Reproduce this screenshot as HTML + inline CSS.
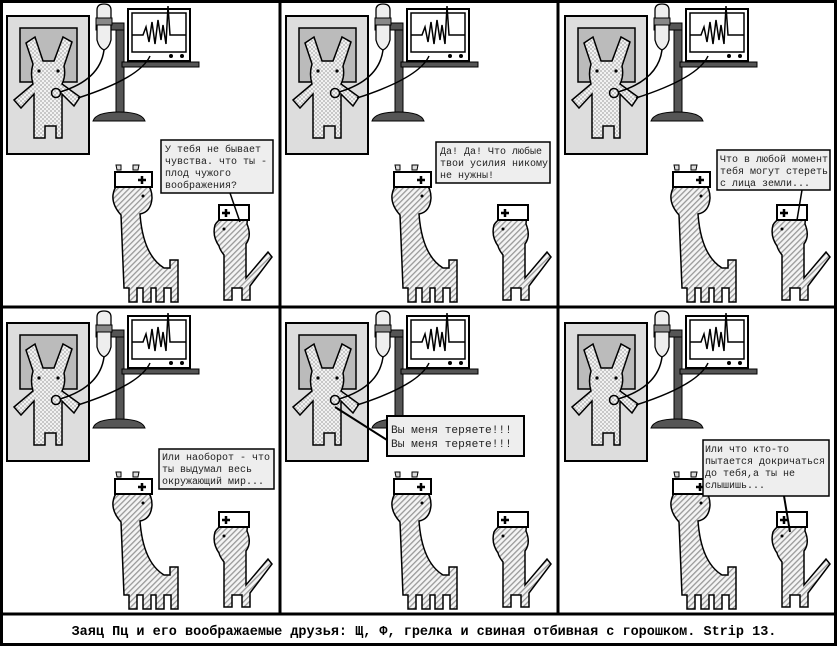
<!DOCTYPE html>
<html><head><meta charset="utf-8"><style>
html,body{margin:0;padding:0;background:#fff;width:837px;height:646px;overflow:hidden}
svg{display:block}
.t{font-family:"Liberation Mono","DejaVu Sans Mono",monospace;font-size:10px;fill:#222}
.cap{font-family:"Liberation Mono","DejaVu Sans Mono",monospace;font-size:13.5px;font-weight:bold;fill:#000}
</style></head><body>
<svg width="837" height="646" viewBox="0 0 837 646" xmlns="http://www.w3.org/2000/svg">
<defs>
<pattern id="chk" width="4" height="4" patternUnits="userSpaceOnUse">
<rect width="4" height="4" fill="#f2f2f2"/><rect width="2" height="2" fill="#c8c8c8"/><rect x="2" y="2" width="2" height="2" fill="#c8c8c8"/>
</pattern>
<pattern id="diag" width="4" height="4" patternUnits="userSpaceOnUse" patternTransform="rotate(45)">
<rect width="4" height="4" fill="#f4f4f4"/><rect width="1.3" height="4" fill="#999"/>
</pattern>
<g id="scene">
<rect x="7" y="16" width="82" height="138" fill="#ddd" stroke="#000" stroke-width="2"/>
<rect x="20" y="28" width="57" height="54" fill="#bbb" stroke="#000" stroke-width="1.5"/>
<path d="M26,43 L35,37 L43,61 L54,61 L63,37 L72,42 L64,66 Q66,76 62,84 L80,97 L74,106 L62,94 L62,138 L56,138 L56,126 L45,126 L45,138 L34,138 L34,94 L21,108 L14,100 L33,84 Q30,74 33,64 Z" fill="url(#chk)" stroke="#000" stroke-width="1.5"/>
<circle cx="39" cy="71" r="1.6" fill="#000"/><circle cx="58" cy="71" r="1.6" fill="#000"/>
<circle cx="56" cy="93" r="4.5" fill="none" stroke="#000" stroke-width="1.5"/>
<rect x="116" y="24" width="8" height="90" fill="#555" stroke="#000"/>
<rect x="96" y="23" width="28" height="7" fill="#555" stroke="#000"/>
<path d="M93,121 Q96,112 119,112 Q142,112 145,121 Z" fill="#555" stroke="#000"/>
<path d="M97,10 Q97,4 104,4 Q111,4 111,10 L111,40 Q109,48 104,50 Q99,48 97,40 Z" fill="#eee" stroke="#000" stroke-width="1.3"/>
<rect x="96" y="18" width="16" height="7" fill="#888" stroke="#000"/>
<path d="M104,50 Q100,80 60,92" fill="none" stroke="#000" stroke-width="1.5"/>
<rect x="128" y="9" width="62" height="52" fill="#fff" stroke="#000" stroke-width="2"/>
<rect x="132" y="13" width="54" height="39" fill="#fff" stroke="#000" stroke-width="1.5"/>
<path d="M132,35 L143,35 L146,27 L149,42 L152,22 L155,44 L158,20 L161,40 L163,25 L166,44 L168,6 L170,35 L186,35" fill="none" stroke="#000" stroke-width="1.5"/>
<circle cx="171" cy="56" r="2" fill="#000"/><circle cx="182" cy="56" r="2" fill="#000"/>
<rect x="122" y="62" width="77" height="5" fill="#555" stroke="#000"/>
<path d="M150,56 Q140,78 78,98" fill="none" stroke="#000" stroke-width="1.5"/>
<path d="M117,170 L116,165 L121,165 L121,170 Z M133,170 L133,165 L139,165 L138,170 Z" fill="#ddd" stroke="#000"/>
<path d="M121,215 Q112,205 113,195 Q115,180 133,178 Q152,180 152,198 Q151,212 140,214 Q143,255 164,268 L170,268 L170,260 L178,260 L178,302 L171,302 L171,288 L164,288 L164,302 L156,302 L156,288 L151,288 L151,302 L143,302 L143,288 L137,288 L137,302 L129,302 L129,288 L124,288 Z" fill="url(#diag)" stroke="#000" stroke-width="1.5"/>
<circle cx="143" cy="196" r="1.5" fill="#000"/>
<rect x="115" y="172" width="37" height="15" fill="#fff" stroke="#000" stroke-width="2"/>
<path d="M138,180 L146,180 M142,176 L142,184" stroke="#000" stroke-width="2.5"/>
<path d="M219,246 Q212,236 215,225 Q220,216 234,216 L248,210 L247,224 Q252,236 246,244 L246,278 L268,252 L272,257 L250,286 L250,300 L242,300 L242,288 L232,288 L232,300 L224,300 L224,255 Q220,250 219,246 Z" fill="url(#diag)" stroke="#000" stroke-width="1.5"/>
<circle cx="224" cy="229" r="1.5" fill="#000"/>
<rect x="219" y="205" width="30" height="15" fill="#fff" stroke="#000" stroke-width="2"/>
<path d="M222,213 L230,213 M226,209 L226,217" stroke="#000" stroke-width="2.5"/>
</g>
</defs>
<rect width="837" height="646" fill="#fff"/>
<use href="#scene" x="0" y="0"/>
<use href="#scene" x="279" y="0"/>
<use href="#scene" x="558" y="0"/>
<use href="#scene" x="0" y="307"/>
<use href="#scene" x="279" y="307"/>
<use href="#scene" x="558" y="307"/>

<line x1="230" y1="193" x2="240" y2="222" stroke="#000" stroke-width="1.5"/>
<rect x="161" y="140" width="112" height="53" fill="#eee" stroke="#000" stroke-width="1.5"/>
<text class="t" x="165" y="152">У тебя не бывает</text>
<text class="t" x="165" y="164">чувства. что ты -</text>
<text class="t" x="165" y="176">плод чужого</text>
<text class="t" x="165" y="188">воображения?</text>

<rect x="436" y="142" width="114" height="41" fill="#eee" stroke="#000" stroke-width="1.5"/>
<text class="t" x="440" y="154">Да! Да! Что любые</text>
<text class="t" x="440" y="166">твои усилия никому</text>
<text class="t" x="440" y="178">не нужны!</text>

<line x1="802" y1="190" x2="797" y2="220" stroke="#000" stroke-width="1.5"/>
<rect x="717" y="150" width="113" height="40" fill="#eee" stroke="#000" stroke-width="1.5"/>
<text class="t" x="720" y="162">Что в любой момент</text>
<text class="t" x="720" y="174">тебя могут стереть</text>
<text class="t" x="720" y="186">с лица земли...</text>

<rect x="159" y="449" width="115" height="40" fill="#eee" stroke="#000" stroke-width="1.5"/>
<text class="t" x="162" y="460">Или наоборот - что</text>
<text class="t" x="162" y="472">ты выдумал весь</text>
<text class="t" x="162" y="484">окружающий мир...</text>

<line x1="335" y1="407" x2="387" y2="440" stroke="#000" stroke-width="2"/>
<rect x="387" y="416" width="137" height="40" fill="#eee" stroke="#000" stroke-width="2"/>
<text class="t" x="391" y="433" style="font-size:11.2px">Вы меня теряете!!!</text>
<text class="t" x="391" y="447" style="font-size:11.2px">Вы меня теряете!!!</text>

<line x1="784" y1="496" x2="790" y2="532" stroke="#000" stroke-width="2"/>
<rect x="703" y="440" width="126" height="56" fill="#eee" stroke="#000" stroke-width="1.5"/>
<text class="t" x="705" y="452">Или что кто-то</text>
<text class="t" x="705" y="464">пытается докричаться</text>
<text class="t" x="705" y="476">до тебя,а ты не</text>
<text class="t" x="705" y="488">слышишь...</text>

<g fill="none" stroke="#000" stroke-width="3">
<rect x="1.5" y="1.5" width="834" height="643"/>
<line x1="280" y1="0" x2="280" y2="614"/>
<line x1="558" y1="0" x2="558" y2="614"/>
<line x1="0" y1="307" x2="837" y2="307"/>
<line x1="0" y1="614" x2="837" y2="614"/>
</g>
<text class="cap" x="424" y="635" text-anchor="middle">Заяц Пц и его воображаемые друзья: Щ, Ф, грелка и свиная отбивная с горошком. Strip 13.</text>
</svg>
</body></html>
